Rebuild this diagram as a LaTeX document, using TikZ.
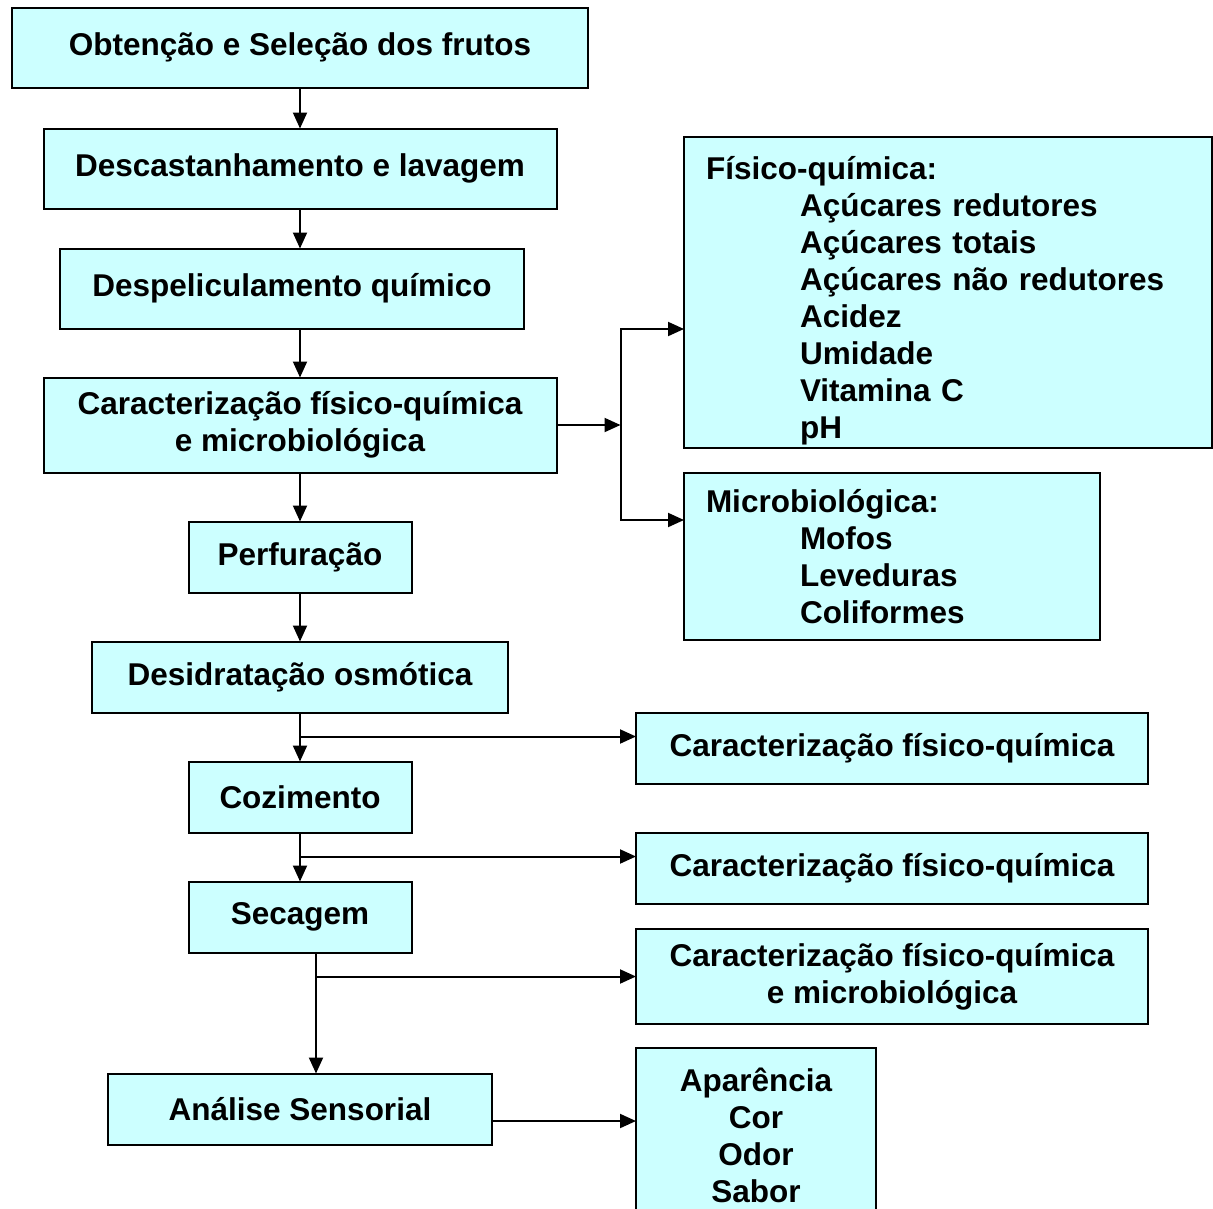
\documentclass[tikz,border=0pt]{standalone}
\usepackage{fontspec}
\setmainfont{Liberation Sans}
\usetikzlibrary{positioning,calc,arrows.meta}
\definecolor{boxcyan}{RGB}{204,255,255}

\begin{document}
\begin{tikzpicture}[
    x=1pt, y=1pt,
    font=\fontsize{31.5}{37}\selectfont\bfseries,
    box/.style={draw, line width=2pt, fill=boxcyan, minimum height=71pt, align=center, inner sep=0pt, outer sep=0pt},
    listbox/.style={draw, line width=2pt, fill=boxcyan, align=left, inner xsep=22pt, inner ysep=0pt, outer sep=0pt, anchor=north west},
    arr/.style={-{Triangle[length=16pt,width=14pt]}, line width=2pt},
]
\useasboundingbox (0,0) rectangle (1213,-1208);

% Main column top-to-bottom
\node[box, minimum width=576pt, minimum height=80pt] (obtencao) at (300,-47.5) {Obtenção e Seleção dos frutos};
\node[box, minimum width=513pt, minimum height=80pt, below=41pt of obtencao] (descast) {Descastanhamento e lavagem};
\node[box, minimum width=464pt, minimum height=80pt, below=40pt of descast, xshift=-8pt] (despel) {Despeliculamento químico};
\node[box, minimum width=513pt, minimum height=95pt, below=49pt of despel, xshift=8pt] (caract) {Caracterização físico-química\\e microbiológica};
\node[box, minimum width=223pt, below=49pt of caract] (perf) {Perfuração};
\node[box, minimum width=416pt, below=49pt of perf] (desid) {Desidratação osmótica};
\node[box, minimum width=223pt, below=49pt of desid] (cozim) {Cozimento};
\node[box, minimum width=223pt, below=49pt of cozim] (secag) {Secagem};
\node[box, minimum width=384pt, below=121pt of secag] (analise) {Análise Sensorial};

% Analysis boxes on the right
\node[listbox, text width=484pt, minimum height=311pt] (fisico) at (684,-137)
  {\rule{0pt}{40pt}Físico-química:\\
   \hspace*{94pt}Açúcares redutores\\
   \hspace*{94pt}Açúcares totais\\
   \hspace*{94pt}Açúcares não redutores\\
   \hspace*{94pt}Acidez\\
   \hspace*{94pt}Umidade\\
   \hspace*{94pt}Vitamina C\\
   \hspace*{94pt}pH};
\node[listbox, text width=372pt, minimum height=167pt] (micro) at (684,-473)
  {Microbiológica:\\
   \hspace*{94pt}Mofos\\
   \hspace*{94pt}Leveduras\\
   \hspace*{94pt}Coliformes};
\node[box, minimum width=512pt, anchor=north west] (fq1) at (636,-713) {Caracterização físico-química};
\node[box, minimum width=512pt, anchor=north west] (fq2) at (636,-833) {Caracterização físico-química};
\node[box, minimum width=512pt, minimum height=95pt, anchor=north west] (fq3) at (636,-929) {Caracterização físico-química\\e microbiológica};
\node[box, minimum width=240pt, minimum height=174pt, anchor=north west] (sensor) at (636,-1048) {Aparência\\Cor\\Odor\\Sabor};

% Arrows (main path)
\draw[arr] (obtencao) -- (descast);
\draw[arr] (descast.south) -- (descast.south |- despel.north);
\draw[arr] (caract.north |- despel.south) -- (caract.north);
\draw[arr] (caract) -- (perf);
\draw[arr] (perf) -- (desid);
\draw[arr] (desid) -- (cozim);
\draw[arr] (cozim) -- (secag);
\draw[arr] ([xshift=16pt]secag.south) -- ([xshift=16pt]secag.south |- analise.north);

% Branches to the right
\coordinate (split) at ($(caract.east)+(64,0)$);
\draw[arr] (caract.east) -- (split);
\draw[arr] (split) |- ([yshift=-36.5pt]fisico.west);
\draw[arr] (split) |- ([yshift=36.5pt]micro.west);
\coordinate (b1) at ($(desid.south)+(0,-24)$);
\draw[arr] (b1) -- (b1 -| fq1.west);
\coordinate (b2) at ($(cozim.south)+(0,-24)$);
\draw[arr] (b2) -- (b2 -| fq2.west);
\draw[arr] ([xshift=16pt]secag.south |- fq3.west) -- (fq3.west);
\draw[arr] ([yshift=-12pt]analise.east) -- ([yshift=-12pt]analise.east -| sensor.west);

\end{tikzpicture}
\end{document}
